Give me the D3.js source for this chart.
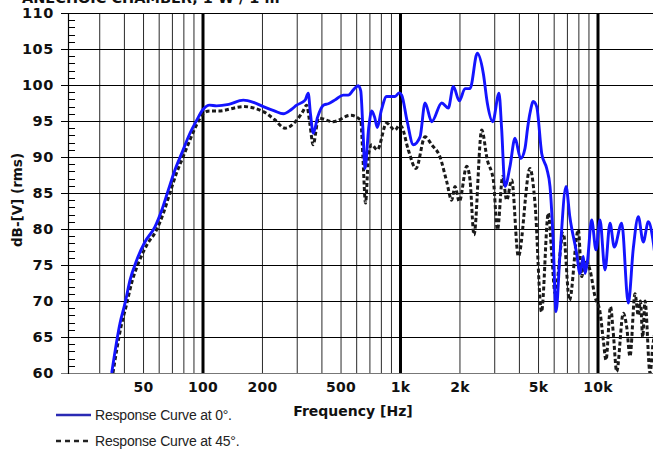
<!DOCTYPE html>
<html><head><meta charset="utf-8">
<script src="https://cdn.jsdelivr.net/npm/d3@7"></script>
<style>body{margin:0;background:#fff}svg{display:block}text{font-family:Arial,"Liberation Sans",sans-serif}.bd{font-family:"DejaVu Sans",Arial,sans-serif;font-weight:bold}</style>
</head><body><svg id="c" width="653" height="452"></svg>
<script>
const title = "ANECHOIC CHAMBER, 1 W / 1 m";
const yLabel = "dB-[V] (rms)";
const xLabel = "Frequency [Hz]";
const seriesNames = ["Response Curve at 0°.", "Response Curve at 45°."];
const yTicks = [60, 65, 70, 75, 80, 85, 90, 95, 100, 105, 110];
const xTickValues = [50, 100, 200, 500, 1000, 2000, 5000, 10000];
const xTickLabels = ["50", "100", "200", "500", "1k", "2k", "5k", "10k"];
const decades = [100, 1000, 10000];
const minorGrid = [30,40,50,60,70,80,90,200,300,400,500,600,700,800,900,2000,3000,4000,5000,6000,7000,8000,9000,20000];

const freq0 = [34.5,38,40.3,42.7,46.2,50.8,57.1,61.8,66.7,72.1,78,85.9,92.9,100,108,117,135,160,180,202,230,255,280,298,329,341,350,362,380,407,431,470,513,544,580,611,629,645,661,690,715,740,763,800,851,938,986,1014,1080,1161,1256,1331,1439,1617,1746,1851,1985,2122,2249,2448,2626,2751,2930,3153,3250,3381,3584,3799,4060,4269,4400,4526,4704,4893,5187,5500,5715,5920,6129,6423,6887,7200,7795,8108,8424,8600,8840,9288,9770,10234,10850,11500,12090,13182,14234,15090,16000,16950,17980,18970,20000];
const db0 = [60,66.9,69.7,72.9,75.7,78.2,80.3,82.6,85.4,88.2,90.5,93.3,95.1,96.6,97.2,97.1,97.3,97.9,97.6,97.0,96.4,96.0,96.6,97.2,97.9,98.85,96,93.3,95.5,97.2,97.4,98.0,98.6,98.6,99.4,99.9,99.2,94,88.4,94,96.4,95.5,94.1,96.5,98.4,98.4,98.9,98.6,95,91.7,92.8,97.5,94.9,97.5,96.8,99.8,97.8,99.5,99.5,104.4,101.6,97.5,94.9,98.85,94,85.9,88.7,92.6,89.8,91.2,94,96.1,97.7,97.0,90.5,88.4,85.9,78.9,68.5,76.6,85.9,81.7,76.6,73.8,76.2,73.8,75.5,81.25,77.1,81.25,74.3,80.8,77.5,80.8,69.7,77.3,81.7,78.2,81.0,78.5,73];

const freq45 = [35,38.5,41,43.5,47,52,58,63,68,73.5,79.5,87.5,94,100,108,120,160,202,230,260,298,320,335,348,361,385,455,560,629,645,665,690,715,763,851,938,986,1014,1095,1198,1331,1439,1585,1713,1816,1888,1985,2164,2249,2356,2577,2751,2951,3098,3292,3449,3656,3950,4526,4797,5176,5604,5830,6058,6675,7171,7951,8270,8596,9111,9656,10234,10636,10978,11570,11955,12434,13430,13974,14521,15395,15996,16400,16839,17298,18339,18990,20000];
const db45 = [60,66.5,69.5,72.5,75.2,77.8,79.8,82.2,85,87.8,90.1,92.9,94.8,96.0,96.4,96.4,97.0,96.3,95.2,94.0,95.1,96.3,97.2,94.5,91.7,95.4,94.9,95.8,95.1,90,83.6,90.5,91.7,91.0,94.7,93.75,94.4,94.2,91.0,88.4,92.8,91.7,90.0,86.6,84.0,85.9,83.8,88.7,86.8,79.2,93.75,89.6,86.8,79.9,87.3,84.0,86.8,76.2,88.4,83.6,68.5,82.2,76.6,71.1,79.4,70.1,79.9,73.4,75.7,74.3,70.6,68.5,64.6,61.8,69.2,65.5,60.2,68.3,66.4,62.3,71,68,70,65,70,60,64,67];

const svg = d3.select("#c");
const L = 68, R = 660, T = 13, B = 373;
const x = d3.scaleLog().domain([100, 10000]).range([203, 598]);
const y = d3.scaleLinear().domain([60, 110]).range([B, T]);

// title (clipped at top of the picture)
svg.append("text").attr("class", "bd").attr("x", 22).attr("y", 3).attr("font-size", 14.5).attr("fill", "#111").text(title);

// minor vertical grid
svg.append("g").selectAll("line").data(minorGrid).join("line")
  .attr("x1", d => x(d)).attr("x2", d => x(d)).attr("y1", T).attr("y2", B)
  .attr("stroke", "#2a2a2a").attr("stroke-width", 1);

// horizontal grid
svg.append("g").selectAll("line").data(yTicks.filter(d => d > 60)).join("line")
  .attr("x1", L - 7).attr("x2", R).attr("y1", d => Math.round(y(d)) + 0.5).attr("y2", d => Math.round(y(d)) + 0.5)
  .attr("stroke", "#000").attr("stroke-width", 1);
svg.append("line").attr("x1", L - 7).attr("x2", R).attr("y1", Math.round(y(60)) + 0.5).attr("y2", Math.round(y(60)) + 0.5)
  .attr("stroke", "#777").attr("stroke-width", 1.2);

// minor y ticks
const minorY = d3.range(61, 110).filter(d => d % 5 !== 0);
svg.append("g").selectAll("line").data(minorY).join("line")
  .attr("x1", L).attr("x2", L + 7).attr("y1", d => Math.round(y(d)) + 0.5).attr("y2", d => Math.round(y(d)) + 0.5)
  .attr("stroke", "#000").attr("stroke-width", 1);

// decade lines
svg.append("g").selectAll("line").data(decades).join("line")
  .attr("x1", d => x(d)).attr("x2", d => x(d)).attr("y1", T).attr("y2", B)
  .attr("stroke", "#000").attr("stroke-width", 3);

// left axis line
svg.append("line").attr("x1", L + 0.5).attr("x2", L + 0.5).attr("y1", T).attr("y2", B + 1).attr("stroke", "#000").attr("stroke-width", 1.2);

// y tick labels
svg.append("g").selectAll("text").data(yTicks).join("text").attr("class", "bd")
  .attr("x", 54).attr("y", d => y(d) + 5).attr("text-anchor", "end").attr("letter-spacing", 0.6)
  .attr("font-size", 14.5).attr("fill", "#111").text(d => d);

// x tick labels
svg.append("g").selectAll("text").data(xTickValues).join("text").attr("class", "bd")
  .attr("x", d => x(d)).attr("y", 392).attr("text-anchor", "middle").attr("letter-spacing", 0.3)
  .attr("font-size", 14).attr("fill", "#111").text((d, i) => xTickLabels[i]);

// axis titles
svg.append("text").attr("class", "bd").attr("x", 353).attr("y", 416).attr("text-anchor", "middle")
  .attr("font-size", 14).attr("fill", "#111").text(xLabel);
svg.append("text").attr("class", "bd").attr("transform", "translate(22,200) rotate(-90)").attr("text-anchor", "middle")
  .attr("font-size", 13.5).attr("fill", "#111").text(yLabel);

// curves
svg.append("defs").append("clipPath").attr("id", "clip").append("rect")
  .attr("x", L).attr("y", T - 2).attr("width", R - L).attr("height", B - T + 2);
const line = d3.line().x(d => x(d[0])).y(d => y(d[1])).curve(d3.curveMonotoneX);
const s0 = freq0.map((f, i) => [f, db0[i]]);
const s45 = freq45.map((f, i) => [f, db45[i]]);
const g = svg.append("g").attr("clip-path", "url(#clip)");
g.append("path").attr("d", line(s45)).attr("fill", "none").attr("stroke", "#1a1a1a")
  .attr("stroke-width", 3).attr("stroke-dasharray", "4,2.5");
g.append("path").attr("d", line(s0)).attr("fill", "none").attr("stroke", "#1414ff")
  .attr("stroke-width", 2.9).attr("stroke-linejoin", "round");

// legend
const legY = [415, 441];
const leg = svg.append("g");
leg.append("line").attr("x1", 56).attr("x2", 91).attr("y1", legY[0]).attr("y2", legY[0]).attr("stroke", "#2a2ab4").attr("stroke-width", 2.6);
leg.append("line").attr("x1", 56).attr("x2", 91).attr("y1", legY[1]).attr("y2", legY[1]).attr("stroke", "#222").attr("stroke-width", 2.6).attr("stroke-dasharray", "5,4");
leg.selectAll("text").data(seriesNames).join("text")
  .attr("x", 95).attr("y", (d, i) => legY[i] + 5).attr("font-size", 14).attr("letter-spacing", -0.2).attr("fill", "#222").text(d => d);
</script></body></html>
